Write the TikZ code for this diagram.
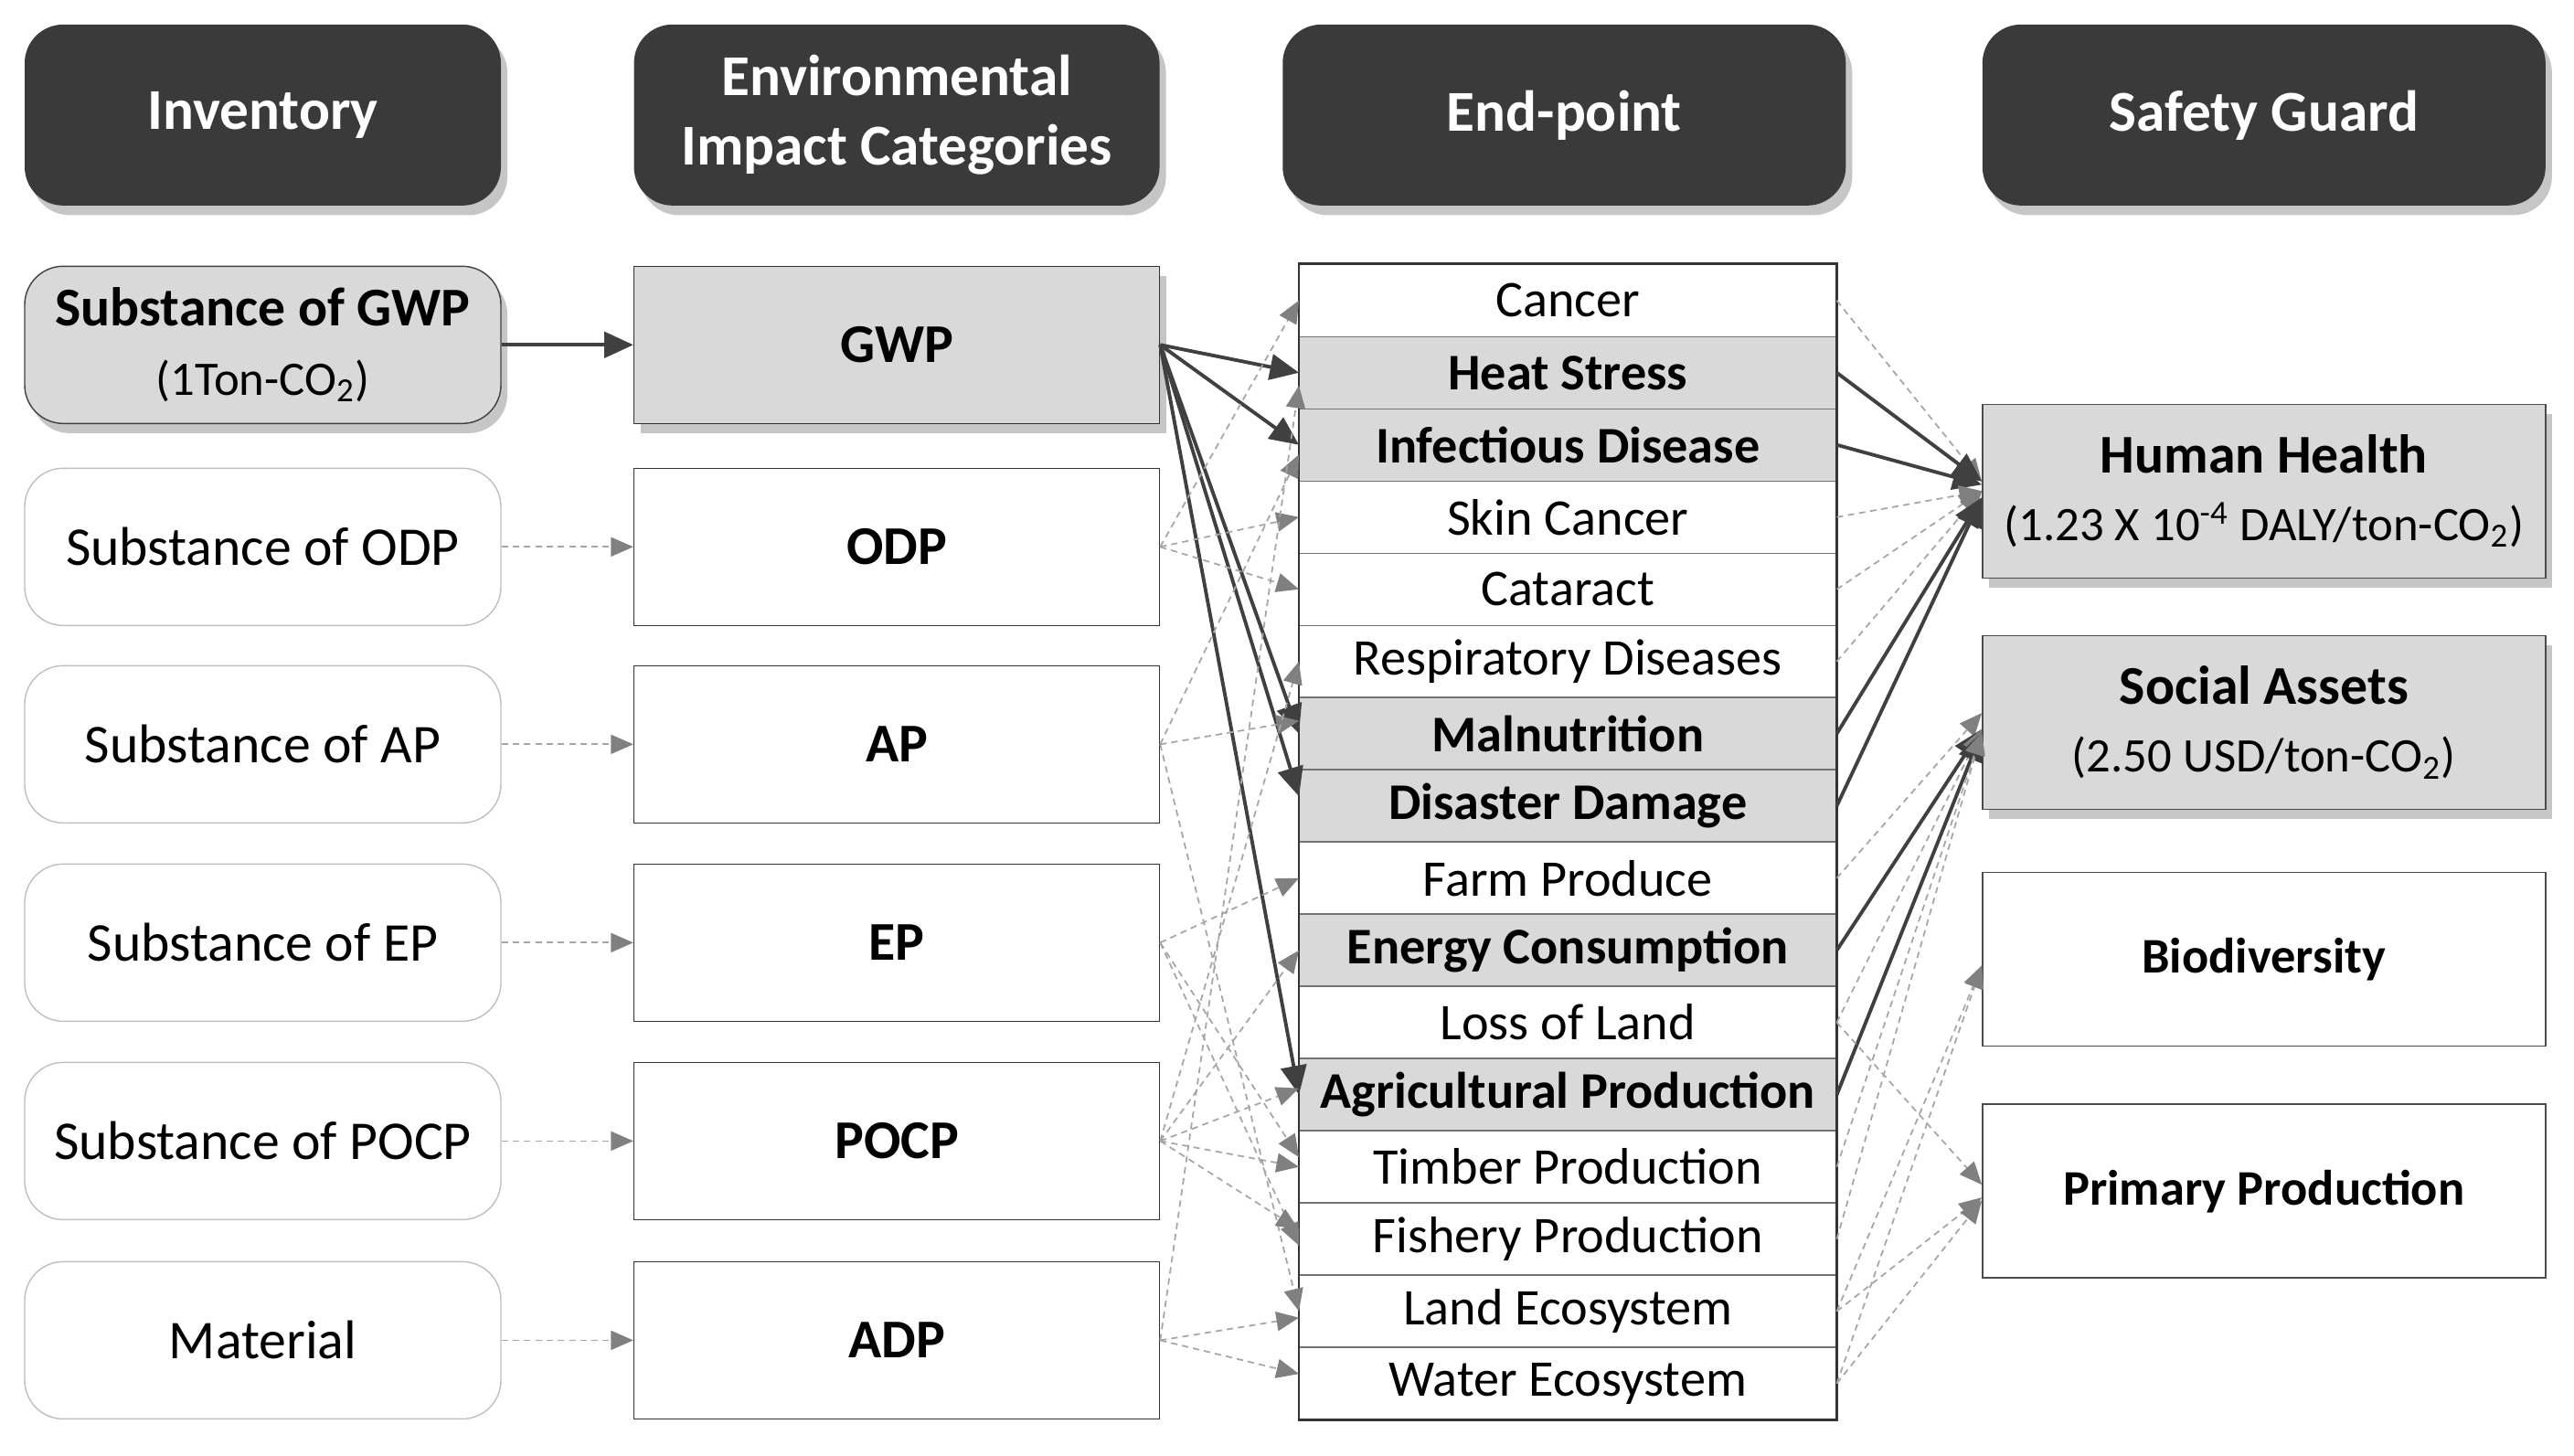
\documentclass[tikz,border=0pt]{standalone}
\usepackage{fontspec}
\setmainfont{Carlito}
\usetikzlibrary{arrows.meta,shadows}
\definecolor{hdrgray}{HTML}{3A3A3A}
\definecolor{boxgray}{HTML}{D9D9D9}
\definecolor{linedark}{HTML}{404040}
\definecolor{linelight}{HTML}{A6A6A6}
\definecolor{tipgray}{HTML}{808080}

\begin{document}
\begin{tikzpicture}[x=0.9955cm, y=0.9955cm]
\tikzstyle{every node}=[align=center, inner sep=1pt]
\tikzstyle{header}=[rounded corners=12pt, fill=hdrgray, text=white, minimum height=1.98cm, font=\fontsize{18}{21.5}\selectfont\bfseries, drop shadow={shadow xshift=2pt, shadow yshift=-3pt, opacity=.45}]
\tikzstyle{inv}=[rounded corners=12pt, draw=black!25, minimum width=5.21cm, minimum height=1.72cm, font=\fontsize{17}{21.5}\selectfont]
\tikzstyle{cat}=[draw=black!80, minimum width=5.75cm, minimum height=1.72cm, font=\fontsize{17}{21.5}\selectfont\bfseries]
\tikzstyle{row}=[draw=black!55, fill=white, minimum width=5.87cm, minimum height=0.790cm, font=\fontsize{16}{19}\selectfont]
\tikzstyle{hot}=[row, fill=boxgray, font=\fontsize{16}{19}\selectfont\bfseries]
\tikzstyle{guard}=[draw=black!70, minimum width=6.16cm, minimum height=1.90cm, font=\fontsize{17}{21}\selectfont\bfseries]
\tikzstyle{plain}=[guard, font=\fontsize{15.5}{19}\selectfont\bfseries]
\tikzstyle{shade}=[fill=boxgray, drop shadow={shadow xshift=2pt, shadow yshift=-3pt, opacity=.45}]
\tikzstyle{main}=[draw=linedark, line width=1.1pt, -{Triangle[length=9pt,width=8pt]}]
\tikzstyle{side}=[draw=linelight, line width=.5pt, dash pattern=on 2pt off 1.5pt, -{Triangle[length=7pt,width=6pt,color=tipgray,fill=tipgray]}]
\newcommand{\unitline}[1]{{\mdseries\fontsize{15}{19}\selectfont #1}}

\useasboundingbox (0,0) rectangle (28.287,-15.992);

% headers
\draw (2.888,-1.264) node (hinv) [header, minimum width=5.21cm] {Inventory};
\draw (9.855,-1.264) node (hcat) [header, minimum width=5.75cm] {Environmental\\Impact Categories};
\draw (17.19,-1.264) node (hend) [header, minimum width=6.16cm] {End-point};
\draw (24.88,-1.264) node (hsafe) [header, minimum width=6.16cm] {Safety Guard};

% inventory
\draw (2.888,-3.79) node (sgwp) [inv, shade, draw=black!75] {{\bfseries Substance of GWP}\\\unitline{(1Ton-CO\textsubscript{2})}};
\draw (2.888,-6.01) node (sodp) [inv] {Substance of ODP};
\draw (2.888,-8.18) node (sap) [inv] {Substance of AP};
\draw (2.888,-10.36) node (sep) [inv] {Substance of EP};
\draw (2.888,-12.54) node (spocp) [inv] {Substance of POCP};
\draw (2.888,-14.73) node (smat) [inv] {Material};

% impact categories
\draw (9.855,-3.79) node (gwp) [cat, shade] {GWP};
\draw (9.855,-6.01) node (odp) [cat] {ODP};
\draw (9.855,-8.18) node (ap) [cat] {AP};
\draw (9.855,-10.36) node (ep) [cat] {EP};
\draw (9.855,-12.54) node (pocp) [cat] {POCP};
\draw (9.855,-14.73) node (adp) [cat] {ADP};

% end-points
\draw (17.23,-3.302) node (cancer) [row] {Cancer};
\draw (17.23,-4.096) node (heat) [hot] {Heat Stress};
\draw (17.23,-4.889) node (infect) [hot] {Infectious Disease};
\draw (17.23,-5.683) node (skin) [row] {Skin Cancer};
\draw (17.23,-6.476) node (catar) [row] {Cataract};
\draw (17.23,-7.270) node (resp) [row] {Respiratory Diseases};
\draw (17.23,-8.063) node (malnu) [hot] {Malnutrition};
\draw (17.23,-8.857) node (disas) [hot] {Disaster Damage};
\draw (17.23,-9.650) node (farm) [row] {Farm Produce};
\draw (17.23,-10.444) node (energy) [hot] {Energy Consumption};
\draw (17.23,-11.237) node (land) [row] {Loss of Land};
\draw (17.23,-12.031) node (agri) [hot] {Agricultural Production};
\draw (17.23,-12.824) node (timber) [row] {Timber Production};
\draw (17.23,-13.618) node (fish) [row] {Fishery Production};
\draw (17.23,-14.411) node (landeco) [row] {Land Ecosystem};
\draw (17.23,-15.205) node (watereco) [row] {Water Ecosystem};
\draw[black!80, line width=.8pt] (cancer.north west) rectangle (watereco.south east);

% safety guard
\draw (24.88,-5.397) node (hh) [guard, shade] {Human Health\\\unitline{(1.23 X 10\textsuperscript{-4} DALY/ton-CO\textsubscript{2})}};
\draw (24.88,-7.942) node (sa) [guard, shade] {Social Assets\\\unitline{(2.50 USD/ton-CO\textsubscript{2})}};
\draw (24.88,-10.54) node (bio) [plain] {Biodiversity};
\draw (24.88,-13.09) node (pp) [plain] {Primary Production};

% inventory to categories
\draw[main] (sgwp) -- (gwp);
\draw[side] (sodp) -- (odp);
\draw[side] (sap) -- (ap);
\draw[side] (sep) -- (ep);
\draw[side] (spocp) -- (pocp);
\draw[side] (smat) -- (adp);

% categories to end-points
\draw[main] (gwp.east) -- (heat.west);
\draw[main] (gwp.east) -- (infect.west);
\draw[main] (gwp.east) -- (malnu.west);
\draw[main] (gwp.east) -- ([yshift=3pt]disas.west);
\draw[main] (gwp.east) -- (agri.west);
\draw[side] (odp.east) -- (cancer.west);
\draw[side] (odp.east) -- (skin.west);
\draw[side] (odp.east) -- (catar.west);
\draw[side] (ap.east) -- ([yshift=-3pt]infect.west);
\draw[side] (ap.east) -- ([yshift=4pt]malnu.west);
\draw[side] (ap.east) -- (landeco.west);
\draw[side] (ep.east) -- (farm.west);
\draw[side] (ep.east) -- ([yshift=3pt]timber.west);
\draw[side] (ep.east) -- ([yshift=-2pt]fish.west);
\draw[side] (pocp.east) -- (resp.west);
\draw[side] (pocp.east) -- (energy.west);
\draw[side] (pocp.east) -- ([yshift=2pt]agri.west);
\draw[side] (pocp.east) -- (timber.west);
\draw[side] (pocp.east) -- ([yshift=3pt]fish.west);
\draw[side] (adp.east) -- ([yshift=-4pt]heat.west);
\draw[side] (adp.east) -- ([yshift=-2pt]landeco.west);
\draw[side] (adp.east) -- ([yshift=3pt]watereco.west);

% end-points to safety guard
\draw[side] (cancer.east) -- ([yshift=3pt]hh.west);
\draw[main] (heat.east) -- ([yshift=3pt]hh.west);
\draw[main] (infect.east) -- ([yshift=2pt]hh.west);
\draw[side] (skin.east) -- (hh.west);
\draw[side] (catar.east) -- (hh.west);
\draw[side] (resp.east) -- (hh.west);
\draw[main] (malnu.east) -- ([yshift=-2pt]hh.west);
\draw[main] (disas.east) -- ([yshift=-2pt]hh.west);
\draw[side] (farm.east) -- ([yshift=3pt]sa.west);
\draw[main] (energy.east) -- ([yshift=-2pt]sa.west);
\draw[side] (land.east) -- ([yshift=-2pt]sa.west);
\draw[main] (agri.east) -- ([yshift=-3pt]sa.west);
\draw[side] (timber.east) -- ([yshift=-3pt]sa.west);
\draw[side] (fish.east) -- ([yshift=-3pt]sa.west);
\draw[side] (landeco.east) -- ([yshift=-2pt]bio.west);
\draw[side] (watereco.east) -- ([yshift=-2pt]bio.west);
\draw[side] (land.east) -- ([yshift=2pt]pp.west);
\draw[side] (landeco.east) -- ([yshift=-2pt]pp.west);
\draw[side] (watereco.east) -- ([yshift=-3pt]pp.west);
\end{tikzpicture}
\end{document}
